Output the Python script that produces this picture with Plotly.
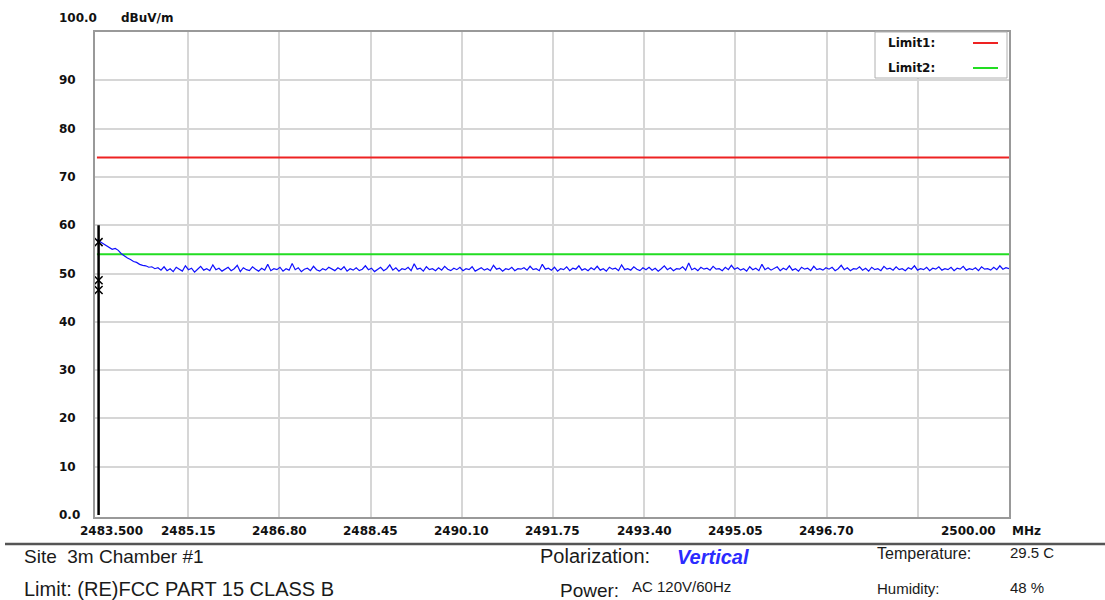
import numpy as np
import plotly.graph_objects as go

# ---------------- data ----------------
f_start, f_stop = 2483.5, 2500.0
y_ticks = [10, 20, 30, 40, 50, 60, 70, 80, 90]
y_tick_labels = ["10", "20", "30", "40", "50", "60", "70", "80", "90"]
x_ticks = [2485.15, 2486.80, 2488.45, 2490.10, 2491.75, 2493.40, 2495.05, 2496.70, 2498.35]
x_tick_labels = ["2485.15", "2486.80", "2488.45", "2490.10", "2491.75", "2493.40", "2495.05", "2496.70", ""]

limit1_level = 74.0
limit2_level = 54.0

trace_vals = [
    57.0, 56.6, 56.1, 55.7, 55.3, 55.0, 55.2, 54.8, 54.1, 53.6, 53.2, 52.9, 52.5, 52.3, 51.9, 51.7, 51.6, 51.3, 51.4, 51.0,
    51.2, 50.7, 51.4, 50.6, 51.0, 50.4, 51.3, 50.9, 50.5, 51.6, 50.8, 51.1, 50.3, 50.9, 51.5, 50.7, 51.0, 50.6, 51.8, 50.8,
    51.1, 50.5, 50.9, 51.3, 50.6, 51.0, 51.7, 50.4, 51.2, 50.8, 50.6, 51.4, 50.9, 50.5, 51.1, 50.7, 51.9, 50.6, 51.0, 50.8,
    51.3, 50.5, 51.0, 50.7, 52.1, 50.8, 51.2, 50.4, 50.9, 51.1, 50.6, 51.5, 50.8, 50.5, 51.0, 50.7, 51.3, 50.9, 50.6, 51.2,
    50.8, 51.4, 50.5, 51.0, 50.7, 51.2, 50.6, 50.9, 51.6, 50.8, 51.1, 50.4, 50.9, 51.3, 50.6, 51.0, 51.8, 50.7, 51.2, 50.5,
    51.0, 50.8, 51.3, 50.6, 52.0, 50.9, 51.1, 50.5, 51.4, 50.8, 51.0, 50.6, 51.2, 50.7, 51.5, 50.9, 50.6, 51.1, 50.8, 51.3,
    50.6, 51.0, 50.8, 51.4, 50.5, 50.9, 51.2, 50.7, 51.0, 50.6, 51.7, 50.9, 51.1, 50.5, 51.0, 50.8, 51.3, 50.6, 51.0, 50.9,
    51.2, 50.7, 51.5, 50.8, 51.0, 50.6, 51.9, 50.9, 51.1, 50.7, 51.3, 50.5, 51.0, 50.8, 51.4, 50.6, 51.1, 50.9, 51.6, 50.7,
    51.0, 50.6, 51.2, 50.8, 51.5, 50.7, 51.0, 50.5, 51.3, 50.9, 51.1, 50.6, 51.8, 50.8, 51.0, 50.7, 51.4, 50.9, 50.6, 51.2,
    50.8, 51.3, 50.7, 51.1, 50.5, 51.0, 51.6, 50.8, 51.2, 50.6, 51.0, 50.9, 51.4, 50.7, 52.2, 50.8, 51.1, 50.6, 51.3, 50.9,
    51.1, 50.7, 51.5, 50.9, 51.0, 50.6, 51.3, 50.8, 51.7, 50.9, 51.2, 50.7, 51.0, 50.5, 51.4, 50.8, 51.1, 50.6, 51.9, 50.8,
    51.2, 50.7, 51.0, 51.4, 50.6, 51.1, 50.8, 51.6, 50.7, 51.0, 50.5, 51.3, 50.9, 51.1, 50.6, 51.5, 50.8, 51.0, 50.7, 51.2,
    50.9, 51.3, 50.6, 51.0, 51.7, 50.8, 51.2, 50.6, 51.0, 50.9, 51.4, 50.7, 51.1, 50.5, 51.3, 50.8, 51.0, 50.6, 51.5, 50.9,
    51.1, 50.7, 51.4, 50.8, 51.0, 50.6, 51.2, 50.9, 51.6, 50.7, 51.0, 50.8, 51.3, 50.6, 51.1, 50.9, 51.4, 50.7, 51.0, 50.8,
    51.3, 50.6, 51.1, 50.9, 51.5, 50.7, 51.0, 50.8, 51.2, 50.6, 51.4, 50.9, 51.0, 50.7, 51.3, 50.8, 51.6, 50.9, 51.2, 51.0,
]
trace_freq = np.linspace(f_start, f_stop, len(trace_vals))

marker_freq = [2483.53, 2483.53, 2483.53]
marker_vals = [56.5, 48.6, 46.6]
marker_line_top = 60.0

footer_left = ["Site  3m Chamber #1", "Limit: (RE)FCC PART 15 CLASS B"]
polarization = "Vertical"
power = "AC 120V/60Hz"
temperature = "29.5 C"
humidity = "48 %"

# ---------------- layout helpers ----------------
L, R, T, B = 95, 96, 32, 83
W, H = 1105, 600
PW = W - L - R
PH = H - T - B


def px(x):
    return (x - L) / PW


def py(y):
    return (H - B - y) / PH


AX_FONT = dict(family="DejaVu Sans", size=12, color="#111111")
TXT = "#1a1a1a"

fig = go.Figure()

# limits
fig.add_trace(go.Scatter(x=[f_start, f_stop], y=[limit1_level, limit1_level], mode="lines",
                         line=dict(color="#ee2222", width=2), hoverinfo="skip"))
fig.add_trace(go.Scatter(x=[f_start, f_stop], y=[limit2_level, limit2_level], mode="lines",
                         line=dict(color="#22dd22", width=2), hoverinfo="skip"))
# measured trace
fig.add_trace(go.Scatter(x=trace_freq, y=trace_vals, mode="lines",
                         line=dict(color="#1010ff", width=1.2)))
# marker line
fig.add_trace(go.Scatter(x=[marker_freq[0], marker_freq[0]], y=[0, marker_line_top], mode="lines",
                         line=dict(color="#000000", width=2.5), hoverinfo="skip"))
fig.add_trace(go.Scatter(x=marker_freq, y=marker_vals, mode="markers",
                         marker=dict(symbol="x-thin-open", size=8, color="#000000",
                                     line=dict(width=1.5, color="#000000"))))

annotations = []
# y tick labels
for v, lab in zip(y_ticks, y_tick_labels):
    annotations.append(dict(x=px(57), xref="paper", y=v, yref="y", text="<b>%s</b>" % lab,
                            showarrow=False, xanchor="left", yanchor="middle", font=AX_FONT))
annotations.append(dict(x=px(57), xref="paper", y=0, yref="y", text="<b>0.0</b>",
                        showarrow=False, xanchor="left", yanchor="middle", font=AX_FONT))
annotations.append(dict(x=px(57), xref="paper", y=py(18), yref="paper", text="<b>100.0</b>",
                        showarrow=False, xanchor="left", yanchor="middle", font=AX_FONT))
annotations.append(dict(x=px(119), xref="paper", y=py(18), yref="paper", text="<b>dBuV/m</b>",
                        showarrow=False, xanchor="left", yanchor="middle", font=AX_FONT))
# x tick labels
for v, lab in zip(x_ticks, x_tick_labels):
    if lab:
        annotations.append(dict(x=v, xref="x", y=py(531), yref="paper", text="<b>%s</b>" % lab,
                                showarrow=False, xanchor="center", yanchor="middle", font=AX_FONT))
annotations.append(dict(x=px(78), xref="paper", y=py(531), yref="paper", text="<b>2483.500</b>",
                        showarrow=False, xanchor="left", yanchor="middle", font=AX_FONT))
annotations.append(dict(x=px(998), xref="paper", y=py(531), yref="paper", text="<b>2500.00</b>",
                        showarrow=False, xanchor="right", yanchor="middle", font=AX_FONT))
annotations.append(dict(x=px(1010), xref="paper", y=py(531), yref="paper", text="<b>MHz</b>",
                        showarrow=False, xanchor="left", yanchor="middle", font=AX_FONT))

# legend text
annotations.append(dict(x=px(886), xref="paper", y=py(43), yref="paper", text="<b>Limit1:</b>",
                        showarrow=False, xanchor="left", yanchor="middle", font=AX_FONT))
annotations.append(dict(x=px(886), xref="paper", y=py(68), yref="paper", text="<b>Limit2:</b>",
                        showarrow=False, xanchor="left", yanchor="middle", font=AX_FONT))

# footer
TXTF = "Liberation Sans"
FS = dict(family=TXTF, size=15, color=TXT)
annotations += [
    dict(x=px(22), xref="paper", y=py(556), yref="paper", text=footer_left[0], showarrow=False,
         xanchor="left", yanchor="middle", font=dict(family=TXTF, size=19, color=TXT)),
    dict(x=px(22), xref="paper", y=py(589), yref="paper", text=footer_left[1], showarrow=False,
         xanchor="left", yanchor="middle", font=dict(family=TXTF, size=20, color=TXT)),
    dict(x=px(538), xref="paper", y=py(556), yref="paper", text="Polarization:", showarrow=False,
         xanchor="left", yanchor="middle", font=dict(family=TXTF, size=20, color=TXT)),
    dict(x=px(675), xref="paper", y=py(557), yref="paper", text="<b><i>%s</i></b>" % polarization,
         showarrow=False, xanchor="left", yanchor="middle",
         font=dict(family=TXTF, size=20, color="#2b2bff")),
    dict(x=px(558), xref="paper", y=py(590), yref="paper", text="Power:", showarrow=False,
         xanchor="left", yanchor="middle", font=dict(family=TXTF, size=19, color=TXT)),
    dict(x=px(630), xref="paper", y=py(586), yref="paper", text=power, showarrow=False,
         xanchor="left", yanchor="middle", font=FS),
    dict(x=px(875), xref="paper", y=py(553), yref="paper", text="Temperature:", showarrow=False,
         xanchor="left", yanchor="middle", font=dict(family=TXTF, size=16, color=TXT)),
    dict(x=px(1008), xref="paper", y=py(552), yref="paper", text=temperature, showarrow=False,
         xanchor="left", yanchor="middle", font=FS),
    dict(x=px(875), xref="paper", y=py(588), yref="paper", text="Humidity:", showarrow=False,
         xanchor="left", yanchor="middle", font=FS),
    dict(x=px(1008), xref="paper", y=py(587), yref="paper", text=humidity, showarrow=False,
         xanchor="left", yanchor="middle", font=FS),
]

shapes = [
    # legend box
    dict(type="rect", xref="paper", yref="paper", x0=px(875), x1=px(1007), y0=py(78), y1=1.0,
         line=dict(color="#b0b0b0", width=1), fillcolor="white", layer="above"),
    dict(type="line", xref="paper", yref="paper", x0=px(973), x1=px(998), y0=py(43), y1=py(43),
         line=dict(color="#ee2222", width=2), layer="above"),
    dict(type="line", xref="paper", yref="paper", x0=px(973), x1=px(998), y0=py(68), y1=py(68),
         line=dict(color="#22dd22", width=2), layer="above"),
    # footer rule
    dict(type="line", xref="paper", yref="paper", x0=px(5), x1=px(1105), y0=py(544), y1=py(544),
         line=dict(color="#555555", width=2.5)),
]

fig.update_layout(
    width=W, height=H,
    margin=dict(l=L, r=R, t=T, b=B),
    paper_bgcolor="white", plot_bgcolor="white",
    showlegend=False,
    annotations=annotations,
    shapes=shapes,
    xaxis=dict(range=[2483.465, f_stop], tickvals=x_ticks, showticklabels=False, ticks="",
               showgrid=True, gridcolor="#d6d6d6", gridwidth=1.5, zeroline=False,
               showline=True, mirror=True, linecolor="#999999", linewidth=2, fixedrange=True),
    yaxis=dict(range=[-0.4, 100], tickvals=y_ticks, showticklabels=False, ticks="",
               showgrid=True, gridcolor="#d6d6d6", gridwidth=1.5, zeroline=False,
               showline=True, mirror=True, linecolor="#999999", linewidth=2, fixedrange=True),
)

fig.write_html("out.html", config={"displayModeBar": False},
               post_script="document.body.style.margin='0';document.body.style.overflow='hidden';")
